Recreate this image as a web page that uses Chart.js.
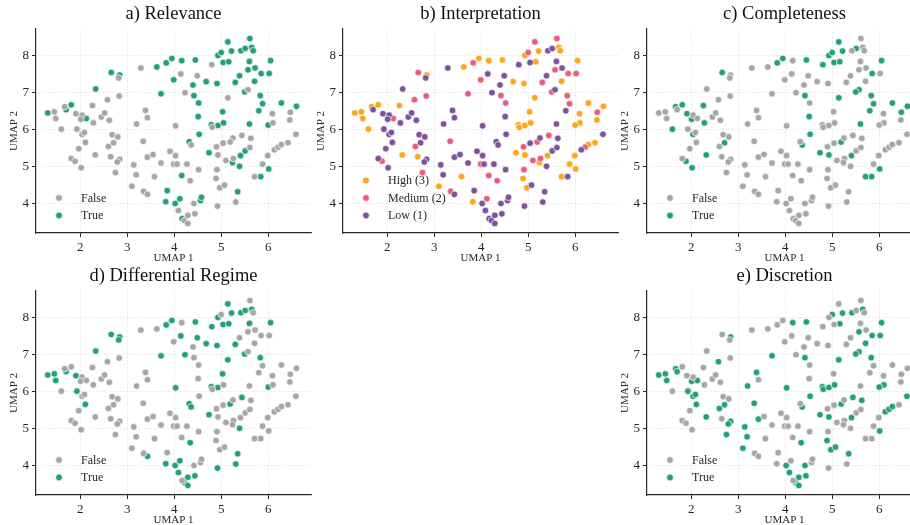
<!DOCTYPE html>
<html>
<head>
<meta charset="utf-8">
<script src="https://cdn.jsdelivr.net/npm/chart.js@4.4.0/dist/chart.umd.min.js"></script>
<style>
  html, body { margin: 0; padding: 0; background: #fff; width: 910px; height: 525px; overflow: hidden; position: relative; }
  canvas { position: absolute; }
</style>
</head>
<body>
<canvas id="pa" width="315" height="265" style="left:0px;top:0px"></canvas>
<canvas id="pb" width="315" height="265" style="left:307px;top:0px"></canvas>
<canvas id="pc" width="315" height="265" style="left:611px;top:0px"></canvas>
<canvas id="pd" width="315" height="265" style="left:0px;top:262px"></canvas>
<canvas id="pe" width="315" height="265" style="left:611px;top:262px"></canvas>
<script>
// UMAP coordinates, one entry per item (same points in every panel)
var umap1 = [
  1.31, 1.45, 1.48, 1.60, 1.67, 1.70, 1.81, 1.91, 2.04, 2.01,
  2.13, 2.28, 2.26, 2.33, 2.45, 2.52, 2.58, 2.62, 2.66, 2.84,
  2.82, 2.83, 1.93, 2.04, 2.09, 2.11, 1.97, 1.81, 1.89, 2.02,
  2.32, 2.65, 2.60, 2.68, 2.71, 2.80, 2.84, 2.79, 2.75, 3.29,
  3.20, 3.39, 3.43, 3.34, 3.14, 3.19, 3.10, 3.43, 3.55, 3.35,
  3.43, 3.58, 3.72, 3.63, 3.83, 3.95, 4.16, 4.45, 3.72, 3.99,
  4.14, 4.23, 4.40, 4.49, 4.42, 4.52, 4.51, 4.03, 4.53, 3.91,
  4.03, 3.99, 4.06, 4.32, 4.36, 4.27, 4.16, 4.34, 4.52, 3.82,
  3.85, 4.02, 4.12, 4.09, 4.17, 4.22, 4.29, 4.29, 4.44, 4.42,
  4.56, 4.58, 4.68, 4.80, 4.91, 4.93, 5.00, 5.04, 5.14, 5.16,
  5.22, 5.14, 5.30, 5.39, 5.42, 5.51, 5.61, 5.65, 5.68, 5.60,
  5.57, 5.72, 5.71, 5.57, 5.50, 5.85, 6.02, 6.05, 5.83, 5.88,
  5.80, 6.09, 6.10, 6.00, 6.28, 6.47, 6.46, 6.60, 6.59, 6.13,
  6.21, 6.28, 6.42, 5.60, 5.44, 5.63, 5.25, 5.19, 5.04, 4.90,
  4.93, 4.74, 4.79, 4.81, 4.93, 5.05, 5.03, 5.51, 5.61, 5.41,
  5.10, 5.26, 5.24, 5.39, 4.91, 4.89, 4.97, 5.07, 5.35, 5.31,
  4.92, 5.71, 5.84, 6.01, 5.99, 5.88
];
var umap2 = [
  6.45, 6.48, 6.30, 6.01, 6.62, 6.54, 6.67, 6.43, 6.39, 6.28,
  6.30, 6.18, 6.65, 7.10, 6.34, 6.45, 6.81, 6.25, 7.55, 7.48,
  7.40, 6.91, 6.01, 5.87, 5.92, 5.65, 5.48, 5.21, 5.14, 4.96,
  5.31, 5.26, 5.54, 5.86, 5.64, 5.80, 5.19, 5.12, 4.83, 7.67,
  6.15, 6.52, 6.32, 5.68, 5.04, 4.77, 4.46, 5.25, 5.32, 4.32,
  4.24, 4.72, 5.09, 7.70, 7.81, 7.93, 7.87, 7.89, 6.97, 7.35,
  7.51, 7.00, 7.21, 7.46, 6.92, 6.72, 6.35, 6.10, 5.87, 5.41,
  5.29, 5.06, 5.06, 5.67, 5.58, 5.06, 4.75, 4.61, 4.91, 4.04,
  4.34, 3.99, 4.12, 3.80, 3.58, 3.53, 3.45, 3.67, 3.71, 3.99,
  4.07, 4.16, 7.30, 7.76, 7.25, 8.01, 8.09, 7.82, 8.38, 7.84,
  8.13, 6.86, 7.28, 7.46, 8.14, 8.20, 8.47, 8.23, 8.14, 7.85,
  7.62, 7.67, 7.31, 7.08, 7.02, 7.52, 7.52, 7.87, 6.92, 6.70,
  6.51, 6.43, 6.18, 6.12, 6.72, 6.47, 6.26, 6.63, 5.87, 5.45,
  5.52, 5.59, 5.64, 6.15, 5.84, 5.76, 5.77, 5.66, 5.63, 5.53,
  5.31, 5.37, 6.13, 6.06, 6.11, 6.18, 6.48, 5.42, 5.51, 5.29,
  5.16, 5.21, 5.10, 5.00, 4.91, 4.67, 4.42, 4.49, 4.31, 4.03,
  3.92, 4.72, 4.72, 4.93, 5.29, 5.06
];

// a) Relevance: 1 = True, 0 = False
var relevance = [
  1,0,0,0,0,1,1,0,0,0, 1,0,0,1,0,0,0,0,1,1, 0,0,0,0,0,0,0,0,0,0,
  0,0,0,0,0,0,0,0,0,0, 0,0,0,0,0,0,0,0,0,0, 0,0,0,1,1,1,1,1,1,1,
  0,0,1,0,1,1,1,0,1,0, 0,0,0,1,0,0,1,0,0,1, 1,1,1,0,1,0,0,0,0,0,
  1,1,1,0,1,1,1,1,1,1, 1,0,1,1,1,1,1,1,1,1, 1,1,1,0,1,1,1,1,1,1,
  1,0,0,1,1,0,0,1,0,0, 0,0,0,1,0,0,0,0,0,0, 0,1,1,0,1,1,1,1,0,1,
  0,0,1,1,0,0,0,0,1,0, 0,0,1,1,0,0
];
// b) Interpretation: 3 = High, 2 = Medium, 1 = Low
var interpretation = [
  3,3,3,3,3,1,3,1,1,1, 2,1,3,1,1,1,2,1,2,3, 1,2,1,1,1,1,1,1,2,1,
  3,3,2,1,1,1,1,1,2,1, 1,1,1,2,1,1,3,1,1,2, 1,3,1,3,2,3,3,3,2,2,
  1,1,1,1,2,2,1,1,1,1, 1,2,1,1,1,1,2,2,1,3, 1,1,2,1,1,1,1,1,1,1,
  1,1,3,1,3,3,2,1,2,3, 3,3,2,1,1,1,2,3,3,1, 2,1,3,1,2,2,2,3,2,2,
  1,3,3,3,3,2,3,3,1,1, 2,3,3,1,2,1,1,2,1,2, 3,3,3,3,3,3,3,1,1,3,
  2,2,3,1,2,3,3,1,1,1, 1,3,1,3,3,3
];
// c) Completeness
var completeness = [
  0,0,0,1,1,0,1,1,0,1, 0,1,1,0,0,0,0,0,1,0, 0,0,0,1,0,0,0,0,1,1,
  1,0,0,0,1,0,0,0,0,0, 0,0,0,0,0,0,0,0,0,0, 0,0,0,0,1,1,0,1,0,0,
  0,0,0,0,1,0,1,0,1,0, 0,0,0,0,1,0,0,0,0,0, 0,0,0,0,0,0,0,0,0,0,
  0,0,0,1,0,1,1,1,1,1, 1,1,0,0,0,1,0,0,0,0, 0,0,0,1,1,1,0,1,1,1,
  1,0,0,0,1,1,0,1,0,0, 0,0,0,1,0,0,0,1,0,0, 1,1,0,0,0,0,0,0,0,1,
  0,0,0,0,0,0,0,0,0,0, 0,1,1,1,0,0
];
// d) Differential Regime
var differential = [
  1,1,1,0,0,1,0,1,0,0, 0,0,0,1,0,0,0,0,1,1, 1,0,1,0,0,1,0,0,0,0,
  0,0,0,0,0,0,0,0,0,0, 0,0,0,0,0,0,0,0,0,0, 1,0,0,0,1,1,0,1,1,0,
  1,1,0,1,0,0,0,1,0,0, 0,0,0,1,1,0,0,1,0,1, 0,1,1,1,0,1,1,1,1,0,
  0,0,1,1,1,1,0,1,1,1, 1,1,1,0,1,1,0,1,0,1, 0,0,0,0,1,0,0,1,1,0,
  0,0,0,1,0,0,0,0,0,0, 0,0,0,0,1,0,0,1,0,0, 0,1,1,0,1,0,1,0,0,0,
  0,0,0,1,0,0,0,0,1,1, 1,0,0,0,0,0
];
// e) Discretion
var discretion = [
  1,1,1,0,1,1,0,0,0,1, 1,0,0,0,0,0,1,0,0,1, 0,0,1,1,1,1,0,0,0,0,
  1,0,1,0,1,0,1,1,1,0, 1,1,0,1,1,1,1,1,0,0, 0,0,0,0,0,0,1,1,1,0,
  0,0,0,0,1,0,0,1,1,0, 0,0,0,0,1,0,0,1,0,0, 0,1,0,1,0,1,1,1,1,1,
  0,0,0,0,0,0,1,0,0,1, 1,1,0,0,1,0,0,1,0,0, 1,0,1,1,1,1,1,1,1,0,
  0,0,1,1,0,0,0,0,1,1, 1,1,0,0,1,1,0,1,0,0, 1,1,1,1,1,1,0,0,0,1,
  0,0,0,0,0,1,1,1,1,0, 0,0,0,1,0,0
];

var xTicks = [2, 3, 4, 5, 6];
var yTicks = [4, 5, 6, 7, 8];
var boolCategories = [{ code: 0, label: "False" }, { code: 1, label: "True" }];
var interpCategories = [{ code: 3, label: "High (3)" }, { code: 2, label: "Medium (2)" }, { code: 1, label: "Low (1)" }];

var serif = "'Liberation Serif', 'Times New Roman', Times, serif";
var ink = "#262626";
var boolColors = ["#a6a6a6", "#22a07a"];
var interpColors = ["#fca61b", "#ea5b7e", "#7b529c"];

function pointsFor(labels, code) {
  var out = [];
  for (var i = 0; i < labels.length; i++) {
    if (labels[i] === code) out.push({ x: umap1[i], y: umap2[i] });
  }
  return out;
}

// draws the panel title and the legend inside the plot
function decoPlugin(title, names, colors) {
  return {
    id: "deco",
    afterDraw: function (chart) {
      var ctx = chart.ctx, area = chart.chartArea;
      ctx.save();
      ctx.fillStyle = "#111";
      ctx.font = "18.5px " + serif;
      ctx.textAlign = "center";
      ctx.textBaseline = "middle";
      ctx.fillText(title, (area.left + area.right) / 2, 14);
      ctx.font = "12px " + serif;
      ctx.textAlign = "left";
      for (var i = 0; i < names.length; i++) {
        var y = area.bottom - 17.5 * (names.length - i);
        ctx.beginPath();
        ctx.arc(area.left + 23, y, 3.4, 0, Math.PI * 2);
        ctx.fillStyle = colors[i];
        ctx.fill();
        ctx.lineWidth = 0.7;
        ctx.strokeStyle = "#fff";
        ctx.stroke();
        ctx.fillStyle = ink;
        ctx.fillText(names[i], area.left + 45, y + 0.5);
      }
      ctx.restore();
    }
  };
}

function axis(ticks, min, max, titleText, isX) {
  return {
    type: "linear",
    min: min,
    max: max,
    afterBuildTicks: function (s) { s.ticks = ticks.map(function (v) { return { value: v }; }); },
    afterFit: function (s) { if (isX) s.height = 32; else s.width = 36; },
    ticks: { font: { family: serif, size: 13 }, color: ink, padding: 3, callback: function (v) { return String(v); } },
    grid: { color: "rgba(0,0,0,0.13)", lineWidth: 0.7, drawTicks: true, tickLength: 4, tickColor: ink, tickWidth: 1 },
    border: { display: true, color: ink, width: 1.2, dash: [1.5, 1.5] },
    title: {
      display: true, text: titleText, color: ink,
      font: { family: serif, size: 11 },
      padding: isX ? { top: 0, bottom: 0 } : { top: 8, bottom: 0 }
    }
  };
}

function makePanel(id, title, labels, cats, colors) {
  var datasets = cats.map(function (c, k) {
    return {
      label: c.label,
      data: pointsFor(labels, c.code),
      backgroundColor: colors[k],
      borderColor: "rgba(255,255,255,0.95)",
      borderWidth: 0.7,
      pointRadius: 3.3,
      pointHoverRadius: 3.3
    };
  });
  // draw lower categories first so the legend order matches reading order
  if (cats.length === 3) datasets.reverse();
  return new Chart(document.getElementById(id), {
    type: "scatter",
    data: { datasets: datasets },
    options: {
      responsive: false,
      animation: false,
      layout: { padding: { top: 29, right: 4, left: 0, bottom: 0 } },
      plugins: { legend: { display: false }, tooltip: { enabled: false }, title: { display: false } },
      scales: {
        x: axis(xTicks, 1.06, 6.91, "UMAP 1", true),
        y: axis(yTicks, 3.19, 8.73, "UMAP 2", false)
      }
    },
    plugins: [decoPlugin(title, cats.map(function (c) { return c.label; }), colors)]
  });
}

makePanel("pa", "a) Relevance", relevance, boolCategories, boolColors);
makePanel("pb", "b) Interpretation", interpretation, interpCategories, interpColors);
makePanel("pc", "c) Completeness", completeness, boolCategories, boolColors);
makePanel("pd", "d) Differential Regime", differential, boolCategories, boolColors);
makePanel("pe", "e) Discretion", discretion, boolCategories, boolColors);
</script>
</body>
</html>
